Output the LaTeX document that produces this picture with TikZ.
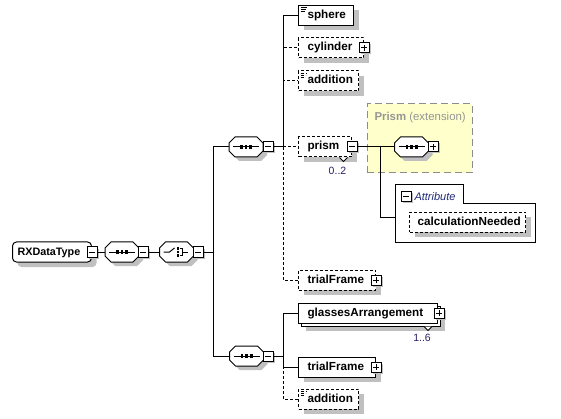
\documentclass[tikz,border=0pt]{standalone}
\usepackage{fontspec}
\setmainfont{Liberation Sans}
\usetikzlibrary{shadows}
\definecolor{shc}{RGB}{192,192,192}
\definecolor{occc}{RGB}{40,30,100}
\definecolor{attc}{RGB}{30,40,120}
\definecolor{extfill}{RGB}{255,255,204}
\definecolor{extdraw}{RGB}{140,140,140}
\definecolor{exttxt}{RGB}{150,150,150}
\newcommand\eltxt[2]{\makebox[#1pt][l]{#2}}
\newcommand\octa[3]{%
  \begin{scope}[shift={(#2,#3)}]
    \fill[shc] (-13,0) -- (-7,-6) -- (15,-6) -- (21,0) -- (21,8) -- (15,14) -- (-7,14) -- (-13,8) -- cycle;
    \draw[fill=white] (-17,-4) -- (-11,-10) -- (11,-10) -- (17,-4) -- (17,4) -- (11,10) -- (-11,10) -- (-17,4) -- cycle;
    \node[inner sep=0pt, minimum width=34pt, minimum height=20pt] (#1) at (0,0) {};
  \end{scope}}
\newcommand\seqnode[3]{%
  \octa{#1}{#2}{#3}%
  \begin{scope}[shift={(#2,#3)}]
    \draw (-13,0) -- (13,0);
    \fill (-6,-1.6) rectangle (-3.2,1.6);
    \fill (-1.4,-1.6) rectangle (1.4,1.6);
    \fill (3.2,-1.6) rectangle (6,1.6);
  \end{scope}}
\newcommand\choicenode[3]{%
  \octa{#1}{#2}{#3}%
  \begin{scope}[shift={(#2,#3)}]
    \draw (-13,0) -- (-7,0) -- (-2,-4);
    \fill (0,-4.6) rectangle (2.4,-2.2);
    \fill (0,-1.2) rectangle (2.4,1.2);
    \fill (0,2.2) rectangle (2.4,4.6);
    \draw (3.2,-3.4) -- (5.5,-3.4) -- (5.5,3.4) -- (3.2,3.4);
    \draw (5.5,0) -- (11,0);
  \end{scope}}
\begin{document}
\begin{tikzpicture}[x=1pt,y=-1pt,line width=1pt,
  elbase/.style={draw, fill=white, anchor=west, minimum height=20pt, inner xsep=9pt, inner ysep=0pt,
    text height=8.4pt, text depth=2.4pt,
    font=\fontsize{11.7}{13}\selectfont\bfseries},
  el/.style={elbase, drop shadow={shadow xshift=5pt, shadow yshift=-5pt, fill=shc, opacity=1}},
  opt/.style={dash pattern=on 3pt off 2pt},
  doc/.style={path picture={\draw[line width=0.8pt]
     ([xshift=2pt,yshift=-2pt]path picture bounding box.north west) -- ++(6pt,0pt)
     ([xshift=2pt,yshift=-4pt]path picture bounding box.north west) -- ++(5pt,0pt)
     ([xshift=2pt,yshift=-6pt]path picture bounding box.north west) -- ++(4pt,0pt);}},
  btn/.style={draw, fill=white, minimum size=10pt, inner sep=0pt, line width=1pt,
    drop shadow={shadow xshift=1.5pt, shadow yshift=-1.5pt, fill=shc, opacity=1}},
  minus/.style={btn, path picture={\draw[line width=1pt]
     ([xshift=-3pt]path picture bounding box.center) -- ([xshift=3pt]path picture bounding box.center);}},
  plus/.style={btn, path picture={\draw[line width=1pt]
     ([xshift=-3pt]path picture bounding box.center) -- ([xshift=3pt]path picture bounding box.center)
     ([yshift=-3pt]path picture bounding box.center) -- ([yshift=3pt]path picture bounding box.center);}},
  occ/.style={font=\fontsize{10.5}{12}\selectfont, text=occc, inner sep=0pt},
  notch/.style={fill=white, line width=0.8pt}
]
\useasboundingbox (0,0) rectangle (561,419);

% extension box
\node[draw=extdraw, fill=extfill, dash pattern=on 7pt off 4pt, minimum width=105pt, minimum height=69pt, inner sep=0pt] (ext) at (419.5,138.5) {};
\node[anchor=west, text=exttxt, font=\fontsize{11.4}{13}\selectfont, inner sep=0pt] (extt) at (374,118) {\textbf{Prism} (extension)};

% attribute group
\draw[fill=white] (395,185) -- (463,185) -- (463,204) -- (535,204) -- (535,243) -- (395,243) -- cycle;
\node[minus] (atb) at (406,197) {};
\node[anchor=west, font=\fontsize{11}{12}\selectfont\itshape, text=attc, inner sep=0pt] (attl) at (414,196.5) {Attribute};
\node[el, opt, inner xsep=8pt] (calc) at (409,222.5) {\eltxt{100}{calculationNeeded}};

% root and compositors
\node[el, rounded corners=4pt, inner xsep=5pt, font=\fontsize{10.8}{13}\selectfont\bfseries] (rx) at (12,252) {\eltxt{69}{RXDataType}};
\node[minus] (rxb) at (rx.east) {};
\seqnode{s1}{122}{252}
\node[minus] (s1b) at (143,252) {};
\choicenode{ch}{176.5}{252}
\node[minus] (chb) at (198,252) {};
\seqnode{s2}{246}{147}
\node[minus] (s2b) at (268,147) {};
\seqnode{s3}{246.5}{356}
\node[minus] (s3b) at (268,356) {};
\seqnode{s4}{411.5}{147}
\node[plus] (s4b) at (433,147) {};

% upper sequence children
\node[el, doc] (sphere) at (298,15.5) {\eltxt{37}{sphere}};
\node[el, opt] (cyl) at (298,48) {\eltxt{47}{cylinder}};
\node[plus] (cylb) at (cyl.east) {};
\node[el, opt, doc] (add1) at (298,81) {\eltxt{42}{addition}};
\node[el, opt] (pr) at (298,147) {\eltxt{35}{prism}};
\node[minus] (prb) at (pr.east) {};
\draw[notch] (339.5,157.5) -- (343.5,161.5) -- (347.5,157.5);
\node[occ] (o1) at (337.5,171) {0..2};
\node[el, opt] (tf1) at (298,280) {\eltxt{59}{trialFrame}};
\node[plus] (tf1b) at (tf1.east) {};

% lower sequence children
\fill[shc] (306,311) rectangle (445,331);
\draw[fill=white] (301,306) rectangle (440,326);
\node[elbase] (ga) at (298,313) {\eltxt{121}{glassesArrangement}};
\node[plus] (gab) at ([xshift=1pt]ga.east) {};
\draw[notch] (424,326.5) -- (428,330.5) -- (432,326.5);
\node[occ] (o2) at (422,337.5) {1..6};
\node[el] (tf2) at (298,367) {\eltxt{59}{trialFrame}};
\node[plus] (tf2b) at (tf2.east) {};
\node[el, opt, doc] (add2) at (298,399) {\eltxt{42}{addition}};

% connectors
\draw (rxb.east) -- (s1.west);
\draw (s1b.east) -- (ch.west);
\coordinate (bus1) at (213,252);
\draw (chb.east) -- (bus1);
\draw (bus1) |- (s2.west);
\draw (bus1) |- (s3.west);

\coordinate (bus2) at (283,147);
\draw (s2b.east) -- (bus2);
\draw[opt] (bus2) |- (cyl.west);
\draw[opt] (bus2) |- (add1.west);
\draw[opt] (bus2) -- (pr.west);
\draw[opt] (bus2) |- (tf1.west);
\draw (bus2) |- (sphere.west);

\coordinate (bus3) at (283,356);
\draw (s3b.east) -- (bus3);
\draw[opt] (bus3) |- (add2.west);
\draw (bus3) |- (ga.west);
\draw (bus3) |- (tf2.west);

\draw (prb.east) -- (s4.west);
\coordinate (pj) at (380,147);
\coordinate (attin) at (395,218);
\draw (pj) |- (attin);
\end{tikzpicture}
\end{document}
